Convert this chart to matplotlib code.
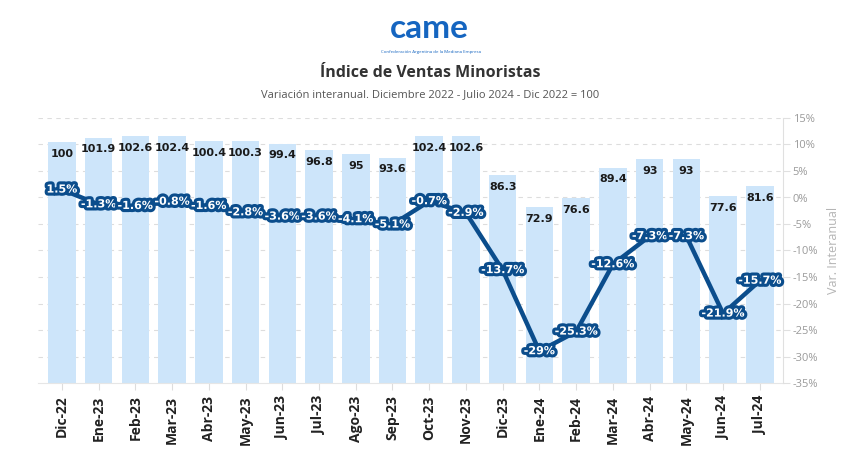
import matplotlib
matplotlib.use("Agg")
import matplotlib.pyplot as plt
import matplotlib.patheffects as pe
from matplotlib.transforms import blended_transform_factory

months = ["Dic-22", "Ene-23", "Feb-23", "Mar-23", "Abr-23", "May-23", "Jun-23", "Jul-23",
          "Ago-23", "Sep-23", "Oct-23", "Nov-23", "Dic-23", "Ene-24", "Feb-24", "Mar-24",
          "Abr-24", "May-24", "Jun-24", "Jul-24"]
index_values = [100, 101.9, 102.6, 102.4, 100.4, 100.3, 99.4, 96.8, 95, 93.6, 102.4, 102.6,
                86.3, 72.9, 76.6, 89.4, 93, 93, 77.6, 81.6]
yoy_change = [1.5, -1.3, -1.6, -0.8, -1.6, -2.8, -3.6, -3.6, -4.1, -5.1, -0.7, -2.9,
              -13.7, -29, -25.3, -12.6, -7.3, -7.3, -21.9, -15.7]
pct_ticks = [15, 10, 5, 0, -5, -10, -15, -20, -25, -30, -35]

BAR = "#cde5fa"
LINE = "#0b4d8c"

fig = plt.figure(figsize=(8.6, 4.61), dpi=100)
fig.patch.set_facecolor("white")
ax = fig.add_axes([38/860, 1-383/461, (783-38)/860, (383-118)/461])
ax2 = ax.twinx()

x = list(range(len(months)))
ax.bar(x, index_values, width=0.75, color=BAR, zorder=2)
ax.set_ylim(0, 110)
ax.set_xlim(-0.65, len(months) - 0.37)
ax2.set_ylim(-35, 15)

# gridlines (behind bars) following the right axis scale
tr = blended_transform_factory(ax.transAxes, ax2.transData)
for p in pct_ticks[:-1]:
    ax.plot([0, 1], [p, p], transform=tr, color="#dddddd", lw=0.8, ls=(0, (4, 4)), zorder=1)

for xi, v in zip(x, index_values):
    ax.annotate(f"{v:g}", (xi, v), xytext=(0, -8.5), textcoords="offset points",
                ha="center", va="center", fontsize=8, fontweight="bold", color="#1a1a1a",
                family="DejaVu Sans", zorder=3)

ax2.plot(x, yoy_change, color=LINE, lw=3.2, solid_joinstyle="round", zorder=3)
for xi, v in zip(x, yoy_change):
    ax2.text(xi, v, f"{v:g}%", ha="center", va="center", fontsize=8, fontweight="bold",
             color="white", family="DejaVu Sans", zorder=4,
             path_effects=[pe.withStroke(linewidth=4.5, foreground=LINE)])

# axes styling
for s in ["top", "left"]:
    ax.spines[s].set_visible(False)
    ax2.spines[s].set_visible(False)
ax.spines["right"].set_visible(False)
ax2.spines["bottom"].set_visible(False)
ax.spines["bottom"].set_color("#e6e6e6")
ax2.spines["right"].set_color("#e0e0e0")
ax.set_yticks([])
ax.set_xticks(x)
ax.set_xticklabels(months, rotation=90, fontsize=10, fontweight="bold", color="#222222",
                   family="Open Sans")
ax.tick_params(axis="x", length=5, color="#dddddd", pad=4)
ax2.set_yticks(pct_ticks)
ax2.set_yticklabels([f"{p}%" for p in pct_ticks], fontsize=8, color="#9a9a9a", family="Open Sans")
ax2.tick_params(axis="y", length=5, color="#e0e0e0", pad=2)
ax2.set_ylabel("Var. Interanual", color="#b5b5b5", fontsize=9, family="Open Sans", labelpad=6)

# header
fig.text(430/860, 1-73/461, "Índice de Ventas Minoristas", ha="center", va="center",
         fontsize=11.5, fontweight="bold", color="#333333", family="Open Sans")
fig.text(430/860, 1-95/461, "Variación interanual. Diciembre 2022 - Julio 2024 - Dic 2022 = 100",
         ha="center", va="center", fontsize=8, color="#555555", family="Open Sans")
fig.text(429/860, 1-29/461, "came", ha="center", va="center", fontsize=24, fontweight="bold",
         color="#1565c0", family="Lato")
fig.text(431/860, 1-52/461, "Confederación Argentina de la Mediana Empresa", ha="center",
         va="center", fontsize=3.2, color="#1565c0", family="Open Sans")

fig.savefig("out.png", dpi=100, facecolor="white")
